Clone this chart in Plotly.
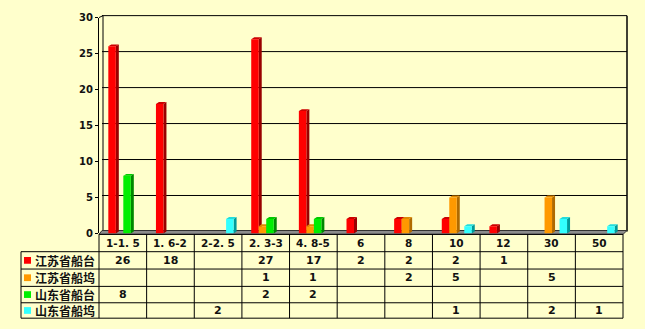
import plotly.graph_objects as go

# ---------------- data ----------------
categories = ["1-1. 5", "1. 6-2", "2-2. 5", "2. 3-3", "4. 8-5", "6", "8", "10", "12", "30", "50"]
series_names = ["江苏省船台", "江苏省船坞", "山东省船台", "山东省船坞"]
js_berth = [26, 18, None, 27, 17, 2, 2, 2, 1, None, None]
js_dock = [None, None, None, 1, 1, None, 2, 5, None, 5, None]
sd_berth = [8, None, None, 2, 2, None, None, None, None, None, None]
sd_dock = [None, None, 2, None, None, None, None, 1, None, 2, 1]
y_ticks = [0, 5, 10, 15, 20, 25, 30]

series_values = [js_berth, js_dock, sd_berth, sd_dock]
face_colors = ["#FF0000", "#FF9900", "#00EE00", "#33FFFF"]
side_colors = ["#990000", "#B06A00", "#008800", "#009A9A"]
top_colors = ["#CC0000", "#E08800", "#00C800", "#22DDDD"]

# ---------------- geometry (pixels) ----------------
W, H = 645, 329
BG = "#FFFFCC"


def px(x):
    return x / W


def py(y):
    return 1 - y / H


X0, X1 = 99, 623          # front plane / table columns
Y0, Y30 = 236, 12         # front plane value 0 and 30
DX, DY = 3, 2             # 3-D depth
ncat = len(categories)
colw = (X1 - X0) / ncat
ypu = (Y0 - Y30) / 30.0
ymax = y_ticks[-1]

slot_px = 7.5
w = slot_px / colw
offsets = [(-14.5 + slot_px * k) / colw for k in range(4)]
d = DX / colw
dyv = DY / ypu

fig = go.Figure()
shapes = []
annotations = []

# back wall gridlines
for v in y_ticks[1:]:
    yy = Y0 - v * ypu - DY
    shapes.append(dict(type="line", xref="paper", yref="paper", layer="below",
                       x0=px(X0 + DX), x1=px(X1 + DX + 1), y0=py(yy), y1=py(yy),
                       line=dict(color="black", width=1)))
# back wall left & right edges
top_y = Y0 - ymax * ypu - DY
shapes.append(dict(type="line", xref="paper", yref="paper", layer="below",
                   x0=px(X0 + DX + 1), x1=px(X0 + DX + 1), y0=py(top_y), y1=py(Y0 - DY),
                   line=dict(color="black", width=1)))
shapes.append(dict(type="line", xref="paper", yref="paper", layer="below",
                   x0=px(X1 + DX + 1), x1=px(X1 + DX + 1), y0=py(top_y), y1=py(Y0 - DY),
                   line=dict(color="black", width=1.5)))
shapes.append(dict(type="line", xref="paper", yref="paper", layer="below",
                   x0=px(X0), x1=px(X0 + DX + 1), y0=py(top_y + DY), y1=py(top_y),
                   line=dict(color="black", width=1)))
# floor
shapes.append(dict(type="path", xref="paper", yref="paper", layer="below",
                   path=f"M {px(X0)},{py(Y0 + 1)} L {px(X0 + DX)},{py(Y0 - DY - 1)} "
                        f"L {px(X1 + DX + 1)},{py(Y0 - DY - 1)} L {px(X1)},{py(Y0 + 1)} Z",
                   fillcolor="#8C8C8C", line=dict(color="#333333", width=1)))

# bars + 3-D sides/tops
for k, (name, vals) in enumerate(zip(series_names, series_values)):
    fig.add_trace(go.Bar(
        x=list(range(ncat)), y=vals, name=name, width=w, offset=offsets[k],
        marker=dict(color=face_colors[k], line=dict(width=0)),
        hoverinfo="skip", showlegend=False))
    for i, v in enumerate(vals):
        if v is None:
            continue
        xa = i + offsets[k]
        xb = xa + w
        shapes.append(dict(type="path", xref="x", yref="y", layer="below",
                           path=f"M {xb},0 L {xb + d},{dyv} L {xb + d},{v + dyv} L {xb},{v} Z",
                           fillcolor=side_colors[k], line=dict(width=0)))
        shapes.append(dict(type="path", xref="x", yref="y", layer="below",
                           path=f"M {xa},{v} L {xa + d},{v + dyv} L {xb + d},{v + dyv} L {xb},{v} Z",
                           fillcolor=top_colors[k], line=dict(width=0)))

# ---------------- data table ----------------
T_TOP = 237
row_y = [255, 273, 291, 308, 324]
LEG_X = 21
line_style = dict(color="black", width=1)

shapes.append(dict(type="line", xref="paper", yref="paper", x0=px(X0), x1=px(X1),
                   y0=py(T_TOP), y1=py(T_TOP), line=line_style))
for ry in row_y:
    shapes.append(dict(type="line", xref="paper", yref="paper", x0=px(LEG_X), x1=px(X1),
                       y0=py(ry), y1=py(ry), line=line_style))
shapes.append(dict(type="line", xref="paper", yref="paper", x0=px(LEG_X), x1=px(LEG_X),
                   y0=py(row_y[0]), y1=py(row_y[-1]), line=line_style))
for c in range(ncat + 1):
    xx = X0 + c * colw
    shapes.append(dict(type="line", xref="paper", yref="paper", x0=px(xx), x1=px(xx),
                       y0=py(T_TOP), y1=py(row_y[-1]), line=line_style))

num_font = dict(family="DejaVu Sans", size=11, color="#111111", weight="bold")
for c, cat in enumerate(categories):
    annotations.append(dict(text=cat, xref="paper", yref="paper",
                            x=px(X0 + (c + 0.5) * colw), y=py((T_TOP + row_y[0]) / 2),
                            showarrow=False, xanchor="center", yanchor="middle",
                            font=dict(family="DejaVu Sans", size=10.5, color="#111111", weight="bold")))

for r, (name, vals) in enumerate(zip(series_names, series_values)):
    yc = (row_y[r] + row_y[r + 1]) / 2
    shapes.append(dict(type="rect", xref="paper", yref="paper",
                       x0=px(24), x1=px(31), y0=py(yc - 3.5), y1=py(yc + 3.5),
                       fillcolor=face_colors[r], line=dict(width=0)))
    annotations.append(dict(text=name, xref="paper", yref="paper", x=px(33), y=py(yc),
                            showarrow=False, xanchor="left", yanchor="middle",
                            font=dict(family="Noto Sans CJK SC", size=12, color="#111111", weight="bold")))
    for c, v in enumerate(vals):
        if v is None:
            continue
        annotations.append(dict(text=str(v), xref="paper", yref="paper",
                                x=px(X0 + (c + 0.5) * colw), y=py(yc),
                                showarrow=False, xanchor="center", yanchor="middle",
                                font=num_font))

fig.update_layout(
    width=W, height=H, autosize=False,
    margin=dict(l=0, r=0, t=0, b=0),
    paper_bgcolor=BG, plot_bgcolor="rgba(0,0,0,0)",
    barmode="overlay", showlegend=False,
    xaxis=dict(domain=[px(X0), px(X1)], range=[-0.5, ncat - 0.5], showticklabels=False,
               showgrid=False, zeroline=False, showline=False, ticks=""),
    yaxis=dict(domain=[py(Y0), py(Y30)], range=[0, ymax], tickvals=y_ticks,
               showgrid=False, zeroline=False, showline=True, linecolor="black", linewidth=1,
               ticks="outside", ticklen=3, tickcolor="black",
               tickfont=dict(family="DejaVu Sans", size=10, color="#111111", weight="bold")),
    shapes=shapes, annotations=annotations,
)

fig.write_html("out.html")
